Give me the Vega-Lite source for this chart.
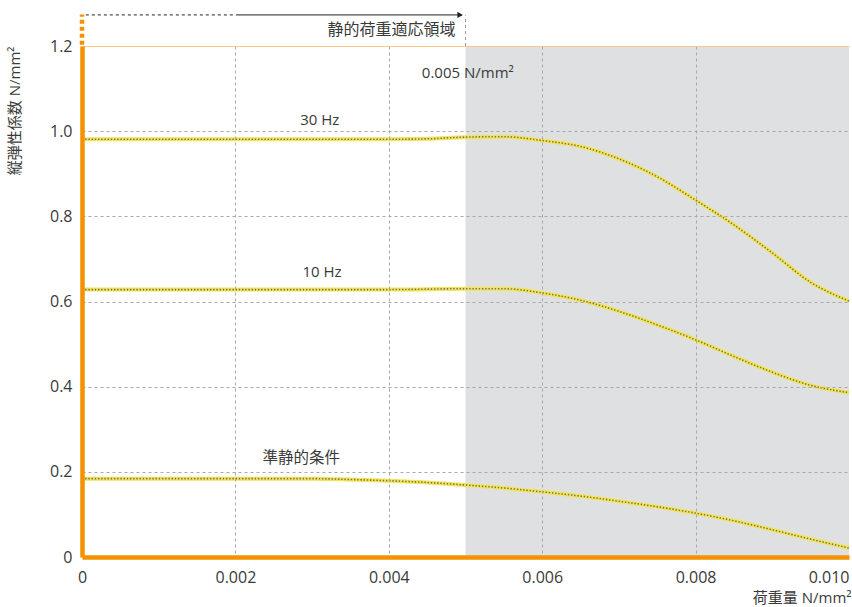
{
  "$schema": "https://vega.github.io/schema/vega-lite/v6.json",
  "width": 767,
  "height": 511,
  "autosize": {"type": "none"},
  "padding": {"left": 82, "top": 46, "right": 3, "bottom": 50},
  "background": "white",
  "config": {
    "font": "Open Sans, Noto Sans CJK JP",
    "view": {"stroke": null},
    "axis": {"labelFont": "Open Sans, Noto Sans CJK JP", "titleFont": "Open Sans, Noto Sans CJK JP", "labelColor": "#3a3a3a", "titleColor": "#3a3a3a", "labelFontSize": 16, "titleFontSize": 14, "titleFontWeight": "normal"}
  },
  "datasets": {
    "curves": [
      {"series": "30 Hz", "x": 0, "y": 0.981},
      {"series": "30 Hz", "x": 0.001, "y": 0.981},
      {"series": "30 Hz", "x": 0.002, "y": 0.981},
      {"series": "30 Hz", "x": 0.003, "y": 0.981},
      {"series": "30 Hz", "x": 0.004, "y": 0.981},
      {"series": "30 Hz", "x": 0.0045, "y": 0.982},
      {"series": "30 Hz", "x": 0.005, "y": 0.986},
      {"series": "30 Hz", "x": 0.0055, "y": 0.987},
      {"series": "30 Hz", "x": 0.006, "y": 0.978},
      {"series": "30 Hz", "x": 0.0065, "y": 0.964},
      {"series": "30 Hz", "x": 0.007, "y": 0.935},
      {"series": "30 Hz", "x": 0.0075, "y": 0.893},
      {"series": "30 Hz", "x": 0.008, "y": 0.838},
      {"series": "30 Hz", "x": 0.0085, "y": 0.780},
      {"series": "30 Hz", "x": 0.009, "y": 0.714},
      {"series": "30 Hz", "x": 0.0095, "y": 0.645},
      {"series": "30 Hz", "x": 0.010, "y": 0.601},
      {"series": "10 Hz", "x": 0, "y": 0.628},
      {"series": "10 Hz", "x": 0.001, "y": 0.628},
      {"series": "10 Hz", "x": 0.002, "y": 0.628},
      {"series": "10 Hz", "x": 0.003, "y": 0.628},
      {"series": "10 Hz", "x": 0.004, "y": 0.628},
      {"series": "10 Hz", "x": 0.005, "y": 0.630},
      {"series": "10 Hz", "x": 0.0055, "y": 0.630},
      {"series": "10 Hz", "x": 0.006, "y": 0.620},
      {"series": "10 Hz", "x": 0.0065, "y": 0.603},
      {"series": "10 Hz", "x": 0.007, "y": 0.577},
      {"series": "10 Hz", "x": 0.0075, "y": 0.545},
      {"series": "10 Hz", "x": 0.008, "y": 0.510},
      {"series": "10 Hz", "x": 0.0085, "y": 0.471},
      {"series": "10 Hz", "x": 0.009, "y": 0.434},
      {"series": "10 Hz", "x": 0.0095, "y": 0.403},
      {"series": "10 Hz", "x": 0.010, "y": 0.386},
      {"series": "準静的条件", "x": 0, "y": 0.184},
      {"series": "準静的条件", "x": 0.001, "y": 0.184},
      {"series": "準静的条件", "x": 0.002, "y": 0.184},
      {"series": "準静的条件", "x": 0.003, "y": 0.184},
      {"series": "準静的条件", "x": 0.0035, "y": 0.182},
      {"series": "準静的条件", "x": 0.004, "y": 0.179},
      {"series": "準静的条件", "x": 0.0045, "y": 0.175},
      {"series": "準静的条件", "x": 0.005, "y": 0.169},
      {"series": "準静的条件", "x": 0.0055, "y": 0.162},
      {"series": "準静的条件", "x": 0.006, "y": 0.153},
      {"series": "準静的条件", "x": 0.0065, "y": 0.143},
      {"series": "準静的条件", "x": 0.007, "y": 0.131},
      {"series": "準静的条件", "x": 0.0075, "y": 0.118},
      {"series": "準静的条件", "x": 0.008, "y": 0.103},
      {"series": "準静的条件", "x": 0.0085, "y": 0.085},
      {"series": "準静的条件", "x": 0.009, "y": 0.064},
      {"series": "準静的条件", "x": 0.0095, "y": 0.042},
      {"series": "準静的条件", "x": 0.010, "y": 0.021}
    ],
    "labels": [
      {"text": "30 Hz", "x": 0.00310, "y": 1.026, "size": 15},
      {"text": "10 Hz", "x": 0.00313, "y": 0.669, "size": 15},
      {"text": "準静的条件", "x": 0.00286, "y": 0.232, "size": 15.5},
      {"text": "0.005 N/mm²", "x": 0.00503, "y": 1.137, "size": 15}
    ]
  },
  "layer": [
    {
      "data": {"values": [{"x0": 0.005, "x1": 0.010, "y0": 0, "y1": 1.2}]},
      "mark": {"type": "rect", "color": "#dfe0e2"},
      "encoding": {
        "x": {"field": "x0", "type": "quantitative", "scale": {"domain": [0, 0.010], "nice": false, "zero": false},
          "axis": {"values": [0, 0.002, 0.004, 0.006, 0.008, 0.010], "title": "荷重量 N/mm²", "titleAnchor": "end", "titleAlign": "right", "titleX": 769, "titleY": 40, "titleBaseline": "middle", "titleFontSize": 15,
            "labelExpr": "datum.value == 0 ? '0' : format(datum.value, '.3f')", "ticks": false, "labelPadding": 12, "labelFlush": false,
            "labelAlign": {"condition": {"test": "datum.value > 0.0099", "value": "right"}, "value": "center"},
            "labelOverlap": false,
            "domainColor": "#f39200", "domainWidth": 4.5, "zindex": 1,
            "grid": true, "gridColor": "#a8a8a8", "gridDash": [3, 3], "gridWidth": 1,
            "gridOpacity": {"condition": {"test": "datum.value > 0.0099 || datum.value < 0.0001", "value": 0}, "value": 1}}},
        "x2": {"field": "x1"},
        "y": {"field": "y0", "type": "quantitative", "scale": {"domain": [0, 1.2], "nice": false},
          "axis": {"values": [0, 0.2, 0.4, 0.6, 0.8, 1.0, 1.2], "title": "縦弾性係数 N/mm²", "titleX": -68, "titleY": 0, "titleAlign": "right", "titleBaseline": "middle", "titleAngle": -90, "titleFontSize": 15,
            "labelExpr": "datum.value == 0 ? '0' : format(datum.value, '.1f')", "ticks": false, "labelPadding": 10, "labelFlush": false, "labelOverlap": false,
            "domainColor": "#f39200", "domainWidth": 4.5, "zindex": 1,
            "grid": true, "gridWidth": 1,
            "gridColor": {"condition": {"test": "datum.value > 1.19", "value": "#f8c987"}, "value": "#a8a8a8"},
            "gridDash": {"condition": {"test": "datum.value > 1.19", "value": []}, "value": [3, 3]},
            "gridOpacity": {"condition": {"test": "datum.value < 0.01", "value": 0}, "value": 1}}},
        "y2": {"field": "y1"}
      }
    },
    {
      "data": {"name": "curves"},
      "mark": {"type": "line", "interpolate": "monotone", "color": "#f2e45a", "strokeWidth": 4},
      "encoding": {
        "x": {"field": "x", "type": "quantitative"},
        "y": {"field": "y", "type": "quantitative"},
        "detail": {"field": "series"}
      }
    },
    {
      "data": {"name": "curves"},
      "mark": {"type": "line", "interpolate": "monotone", "color": "#7a7548", "strokeWidth": 1.6, "strokeDash": [1.4, 1.8]},
      "encoding": {
        "x": {"field": "x", "type": "quantitative"},
        "y": {"field": "y", "type": "quantitative"},
        "detail": {"field": "series"}
      }
    },
    {
      "data": {"values": [{"x": 0, "ya": 1.203, "yb": 1.274}]},
      "mark": {"type": "rule", "color": "#f39200", "strokeWidth": 4.5, "strokeDash": [4, 3], "clip": false},
      "encoding": {
        "x": {"field": "x", "type": "quantitative"},
        "y": {"field": "ya", "type": "quantitative"},
        "y2": {"field": "yb"}
      }
    },
    {
      "data": {"values": [{"x": 0.005, "ya": 1.2, "yb": 1.272}]},
      "mark": {"type": "rule", "color": "#9a9a9a", "strokeWidth": 1, "strokeDash": [3, 3], "clip": false},
      "encoding": {
        "x": {"field": "x", "type": "quantitative"},
        "y": {"field": "ya", "type": "quantitative"},
        "y2": {"field": "yb"}
      }
    },
    {
      "data": {"values": [{"xa": 0.00005, "xb": 0.00202, "y": 1.273}]},
      "mark": {"type": "rule", "color": "#222", "strokeWidth": 1, "strokeDash": [3, 3], "clip": false},
      "encoding": {
        "x": {"field": "xa", "type": "quantitative"},
        "x2": {"field": "xb"},
        "y": {"field": "y", "type": "quantitative"}
      }
    },
    {
      "data": {"values": [{"xa": 0.00202, "xb": 0.00495, "y": 1.273}]},
      "mark": {"type": "rule", "color": "#222", "strokeWidth": 1, "clip": false},
      "encoding": {
        "x": {"field": "xa", "type": "quantitative"},
        "x2": {"field": "xb"},
        "y": {"field": "y", "type": "quantitative"}
      }
    },
    {
      "data": {"values": [{"x": 0.00493, "y": 1.273}]},
      "mark": {"type": "point", "shape": "triangle-right", "filled": true, "color": "#222", "size": 40, "opacity": 1, "clip": false},
      "encoding": {
        "x": {"field": "x", "type": "quantitative"},
        "y": {"field": "y", "type": "quantitative"}
      }
    },
    {
      "data": {"name": "labels"},
      "mark": {"type": "text", "color": "#3a3a3a", "align": "center", "baseline": "middle", "clip": false},
      "encoding": {
        "x": {"field": "x", "type": "quantitative"},
        "y": {"field": "y", "type": "quantitative"},
        "text": {"field": "text"},
        "size": {"field": "size", "type": "quantitative", "scale": null}
      }
    },
    {
      "data": {"values": [{"text": "静的荷重適応領域", "x": 0.00487, "y": 1.238}]},
      "mark": {"type": "text", "color": "#3a3a3a", "align": "right", "baseline": "middle", "fontSize": 16, "clip": false},
      "encoding": {
        "x": {"field": "x", "type": "quantitative"},
        "y": {"field": "y", "type": "quantitative"},
        "text": {"field": "text"}
      }
    }
  ]
}
